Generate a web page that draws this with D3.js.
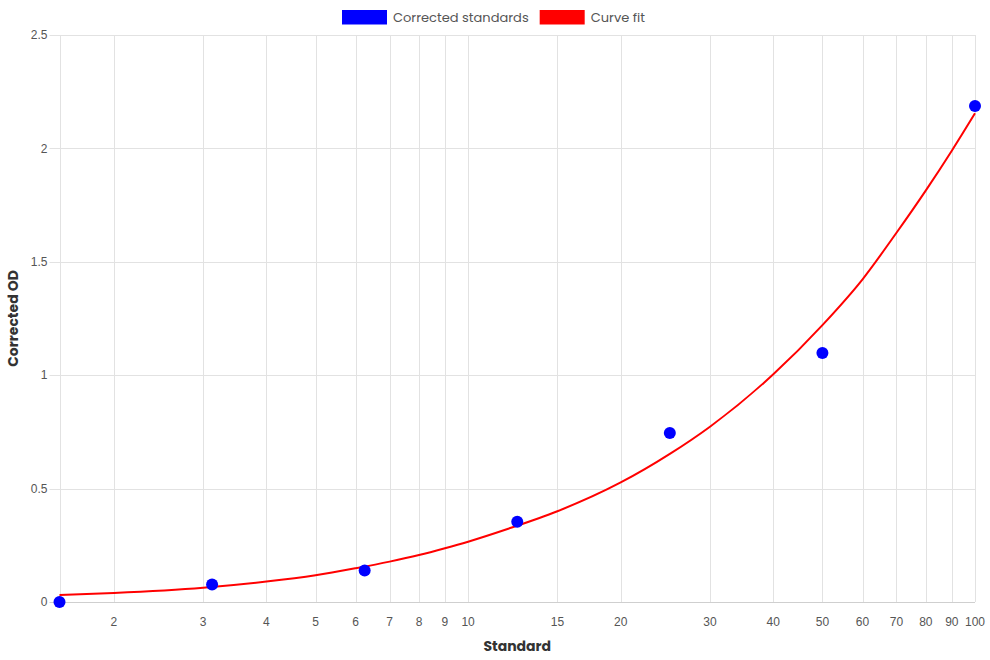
<!DOCTYPE html>
<html>
<head>
<meta charset="utf-8">
<script src="https://cdn.jsdelivr.net/npm/d3@7"></script>
<style>
  body { margin: 0; background: #fff; }
  svg { display: block; }
</style>
</head>
<body>
<div id="chart"></div>
<script>
// Measured standards
const standards = [1.5625, 3.125, 6.25, 12.5, 25, 50, 100];
const correctedOD = [0, 0.077, 0.139, 0.354, 0.745, 1.098, 2.187];

// Curve fit
const fitX = [1.5625, 2, 3, 4, 5, 6, 7, 8, 9, 10, 12, 15, 20, 25, 30, 40, 50, 60, 70, 80, 90, 100];
const fitY = [0.031, 0.040, 0.063, 0.090, 0.118, 0.149, 0.178, 0.207, 0.237, 0.266, 0.323, 0.400, 0.527, 0.653, 0.773, 1.004, 1.221, 1.423, 1.628, 1.815, 1.990, 2.155];

const xTicks = [2, 3, 4, 5, 6, 7, 8, 9, 10, 15, 20, 30, 40, 50, 60, 70, 80, 90, 100];
const yTicks = [0, 0.5, 1, 1.5, 2, 2.5];

const legendItems = [
    { label: "Corrected standards", color: "#0000ff" },
    { label: "Curve fit", color: "#ff0000" }
];

const width = 990, height = 660;
const margins = { left: 59.5, right: 15, top: 35, bottom: 58 };

const svg = d3.select("#chart").append("svg")
    .attr("width", width)
    .attr("height", height);

const xScale = d3.scaleLog()
    .domain([standards[0], 100])
    .range([margins.left, width - margins.right]);

const yScale = d3.scaleLinear()
    .domain([0, 2.5])
    .range([height - margins.bottom, margins.top]);

const tickFont = "'Liberation Sans', Arial, sans-serif";
const titleFont = "Poppins, Lato, 'Open Sans', sans-serif";
const gridColor = "#e2e2e2";

// y grid + labels
const yAxis = svg.append("g").attr("class", "y-axis");
yAxis.selectAll("line")
    .data(yTicks)
    .join("line")
    .attr("x1", margins.left - 10)
    .attr("x2", width - margins.right)
    .attr("y1", (d) => Math.round(yScale(d)) + 0.5)
    .attr("y2", (d) => Math.round(yScale(d)) + 0.5)
    .attr("stroke", (d) => (d === 0 ? "#cfcfcf" : gridColor));
yAxis.selectAll("text")
    .data(yTicks)
    .join("text")
    .attr("x", margins.left - 12)
    .attr("y", (d) => yScale(d))
    .attr("dy", "0.35em")
    .attr("text-anchor", "end")
    .attr("font-family", tickFont)
    .attr("font-size", 12)
    .attr("fill", "#555")
    .text((d) => d);

// x grid + labels (log scale)
const xAxis = svg.append("g").attr("class", "x-axis");
xAxis.selectAll("line")
    .data([standards[0]].concat(xTicks))
    .join("line")
    .attr("x1", (d) => Math.round(xScale(d)) + 0.5)
    .attr("x2", (d) => Math.round(xScale(d)) + 0.5)
    .attr("y1", margins.top)
    .attr("y2", height - margins.bottom)
    .attr("stroke", gridColor);
xAxis.selectAll("text")
    .data(xTicks)
    .join("text")
    .attr("x", (d) => xScale(d))
    .attr("y", height - margins.bottom + 24)
    .attr("text-anchor", "middle")
    .attr("font-family", tickFont)
    .attr("font-size", 12)
    .attr("fill", "#555")
    .text((d) => d);

// axis titles
svg.append("text")
    .attr("x", (margins.left + width - margins.right) / 2)
    .attr("y", height - 9)
    .attr("text-anchor", "middle")
    .attr("font-family", titleFont)
    .attr("font-weight", "bold")
    .attr("font-size", 14)
    .attr("fill", "#333")
    .text("Standard");

svg.append("text")
    .attr("transform", `translate(18,${(margins.top + height - margins.bottom) / 2}) rotate(-90)`)
    .attr("text-anchor", "middle")
    .attr("font-family", titleFont)
    .attr("font-weight", "bold")
    .attr("font-size", 14)
    .attr("fill", "#333")
    .text("Corrected OD");

// curve fit
const fitData = fitX.map((x, i) => [x, fitY[i]]);
const line = d3.line()
    .x((d) => xScale(d[0]))
    .y((d) => yScale(d[1]))
    .curve(d3.curveMonotoneX);

svg.append("path")
    .datum(fitData)
    .attr("fill", "none")
    .attr("stroke", "#ff0000")
    .attr("stroke-width", 2)
    .attr("d", line);

// standards points
svg.append("g")
    .attr("class", "points")
    .selectAll("circle")
    .data(standards.map((x, i) => [x, correctedOD[i]]))
    .join("circle")
    .attr("cx", (d) => xScale(d[0]))
    .attr("cy", (d) => yScale(d[1]))
    .attr("r", 6)
    .attr("fill", "#0000ff");

// legend
const legend = svg.append("g").attr("class", "legend");
const legendFontSize = 13;
let lx = 342;
legendItems.forEach((item) => {
    legend.append("rect")
        .attr("x", lx)
        .attr("y", 10)
        .attr("width", 45)
        .attr("height", 14.5)
        .attr("fill", item.color);
    const t = legend.append("text")
        .attr("x", lx + 51)
        .attr("y", 22)
        .attr("font-family", titleFont)
        .attr("font-size", legendFontSize)
        .attr("fill", "#555")
        .text(item.label);
    lx += 51 + t.node().getComputedTextLength() + 11;
});
</script>
</body>
</html>
